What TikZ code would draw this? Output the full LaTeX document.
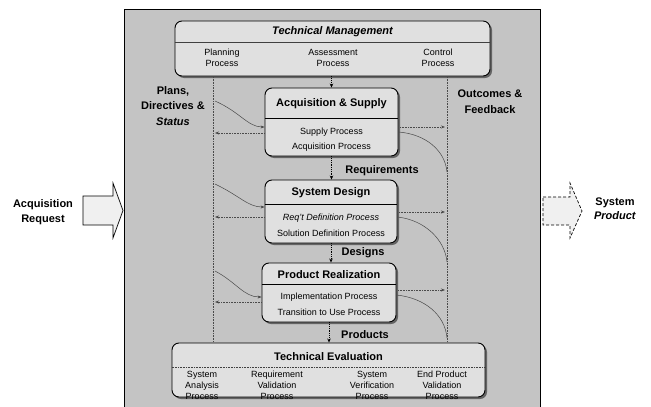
\documentclass[tikz,border=0pt]{standalone}
\usepackage{fontspec}
\setmainfont{Liberation Sans}
\usetikzlibrary{shadows,arrows.meta,calc}
\definecolor{bgc}{HTML}{C4C4C4}
\definecolor{boxc}{HTML}{E0E0E0}
\definecolor{arrc}{HTML}{F0F0F0}
\definecolor{linec}{HTML}{4A4A4A}
\begin{document}
\begin{tikzpicture}[x=1pt,y=-1pt,
  procbox/.style={draw=black, line width=0.9pt, rounded corners=7pt, fill=boxc,
    drop shadow={shadow xshift=2pt, shadow yshift=-2pt, fill=black!70, opacity=0.8}},
  ttl/.style={font=\fontsize{11}{13}\selectfont\bfseries, inner sep=0pt},
  sub/.style={font=\fontsize{9}{11}\selectfont, inner sep=0pt, align=center},
  lbl/.style={font=\fontsize{11}{13}\selectfont\bfseries, inner sep=0pt, align=center},
  divl/.style={draw=black, line width=0.7pt},
  rail/.style={draw=linec, densely dotted, line width=0.6pt},
  hline/.style={draw=linec, densely dotted, line width=0.6pt, -{Stealth[length=4pt,width=3pt]}},
  curvel/.style={draw=linec, line width=0.5pt},
  curvea/.style={draw=linec, line width=0.5pt, -{Stealth[length=4pt,width=3pt]}},
  flowc/.style={draw=black, densely dotted, line width=0.8pt, -{Stealth[length=4pt,width=3.5pt]}},
  blockarr/.style={fill=arrc, line width=0.7pt}
]
\useasboundingbox (0,0) rectangle (651,407);
% background panel
\fill[bgc] (124,9) rectangle (540,415);
\draw[black, line width=1pt] (124,415) -- (124,9) -- (540,9) -- (540,415);

% block arrows
\draw[blockarr, draw=black] (83,196) -- (113,196) -- (113,183) -- (123,210.5) -- (113,238) -- (113,225) -- (83,225) -- cycle;
\draw[blockarr, draw=black, densely dashed] (543,197) -- (570,197) -- (570,183) -- (582,211) -- (570,238) -- (570,225) -- (543,225) -- cycle;

% rails
\coordinate (Ltop) at (213,77);
\coordinate (Lbot) at (213,343);
\coordinate (Rtop) at (447,77);
\coordinate (Rbot) at (447,343);
\draw[rail] (Ltop) -- (Lbot);
\draw[rail] (Rtop) -- (Rbot);

% boxes
\node[procbox, minimum width=315pt, minimum height=55pt] (TM) at (332.5,48.5) {};
\node[procbox, minimum width=133pt, minimum height=68pt] (AS) at (331.5,122) {};
\node[procbox, minimum width=132pt, minimum height=63pt] (SD) at (331,211.5) {};
\node[procbox, minimum width=134pt, minimum height=59pt] (PR) at (329,292.5) {};
\node[procbox, minimum width=313pt, minimum height=54pt] (TE) at (328.5,370) {};

% dividers
\coordinate (TMd) at (0,42);
\coordinate (ASd) at (0,118);
\coordinate (SDd) at (0,204);
\coordinate (PRd) at (0,284);
\coordinate (TEd) at (0,367);
\draw[draw=black!75, line width=0.6pt] (TM.west |- TMd) -- (TM.east |- TMd);
\draw[divl] (AS.west |- ASd) -- (AS.east |- ASd);
\draw[divl] (SD.west |- SDd) -- (SD.east |- SDd);
\draw[divl] (PR.west |- PRd) -- (PR.east |- PRd);
\draw[draw=black!75, densely dotted, line width=0.6pt] (TE.west |- TEd) -- (TE.east |- TEd);

% titles
\node[ttl, font=\fontsize{11}{13}\selectfont\bfseries\itshape] (TMt) at (332.5,32) {Technical Management};
\node[ttl] (ASt) at (331.5,104) {Acquisition \& Supply};
\node[ttl] (SDt) at (331,193) {System Design};
\node[ttl] (PRt) at (329,275) {Product Realization};
\node[ttl] (TEt) at (328.5,357) {Technical Evaluation};

% sub-processes
\node[sub] (tm1) at (222,57.5) {Planning\\Process};
\node[sub] (tm2) at (333,57.5) {Assessment\\Process};
\node[sub] (tm3) at (438,57.5) {Control\\Process};
\node[sub] (as1) at (331.5,132) {Supply Process};
\node[sub] (as2) at (331.5,147) {Acquisition Process};
\node[sub, font=\fontsize{9}{11}\selectfont\itshape] (sd1) at (331,218) {Req't Definition Process};
\node[sub] (sd2) at (331,233) {Solution Definition Process};
\node[sub] (pr1) at (329,297) {Implementation Process};
\node[sub] (pr2) at (329,312) {Transition to Use Process};
\node[sub] (te1) at (202,385) {System\\Analysis\\Process};
\node[sub] (te2) at (277,385) {Requirement\\Validation\\Process};
\node[sub] (te3) at (372,385) {System\\Verification\\Process};
\node[sub] (te4) at (442,385) {End Product\\Validation\\Process};

% central flow
\draw[flowc] (AS.north |- TM.south) -- (AS.north);
\draw[flowc] (AS.south) -- (AS.south |- SD.north);
\draw[flowc] (SD.south) -- (SD.south |- PR.north);
\draw[flowc] (PR.south) -- (PR.south |- TE.north);
\node[lbl] (req) at (382,171) {Requirements};
\node[lbl] (des) at (363,253) {Designs};
\node[lbl] (prd) at (365,335) {Products};

% left side connectors
\coordinate (L1a) at (215,101);
\coordinate (L1b) at (215,133);
\coordinate (L2a) at (215,184);
\coordinate (L2b) at (215,217);
\coordinate (L3a) at (215,271);
\coordinate (L3b) at (215,302);
\draw[curvea] (L1a) .. controls (240,112) and (248,127) .. ([yshift=-5pt]AS.west);
\draw[hline] ([yshift=-11pt]AS.west) -- (L1b);
\draw[curvea] (L2a) .. controls (240,196) and (248,207) .. ([yshift=4.5pt]SD.west);
\draw[hline] ([yshift=-5.5pt]SD.west) -- (L2b);
\draw[curvea] (L3a) .. controls (236,282) and (244,297) .. ([yshift=-4.5pt]PR.west);
\draw[hline] ([yshift=-9.5pt]PR.west) -- (L3b);

% right side connectors
\coordinate (R1a) at (445,127);
\coordinate (R1b) at (447,172);
\coordinate (R2a) at (445,212);
\coordinate (R2b) at (447,262);
\coordinate (R3a) at (445,290);
\coordinate (R3b) at (447,338);
\draw[hline] ([yshift=-5pt]AS.east) -- (R1a);
\draw[curvel] ([yshift=-10pt]AS.east) .. controls (425,134) and (445,150) .. (R1b);
\draw[hline] ([yshift=-0.5pt]SD.east) -- (R2a);
\draw[curvel] ([yshift=-5.5pt]SD.east) .. controls (425,220) and (445,240) .. (R2b);
\draw[hline] ([yshift=2.5pt]PR.east) -- (R3a);
\draw[curvel] ([yshift=-2.5pt]PR.east) .. controls (425,298) and (445,315) .. (R3b);

% side labels
\node[lbl, font=\fontsize{11}{15.5}\selectfont\bfseries] (pds) at (173,106) {Plans,\\Directives \&\\\textit{Status}};
\node[lbl, font=\fontsize{11}{16.5}\selectfont\bfseries] (ofb) at (490,101.5) {Outcomes \&\\Feedback};
\node[lbl, font=\fontsize{11}{15}\selectfont\bfseries] (acq) at (43,212.5) {Acquisition\\Request};
\node[lbl, font=\fontsize{11}{14}\selectfont\bfseries] (sys) at (615,208.5) {System\\\textit{Product}};
\end{tikzpicture}
\end{document}
